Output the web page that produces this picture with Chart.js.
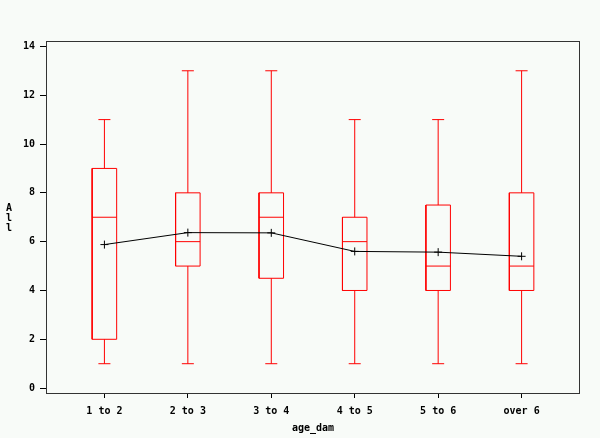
<!DOCTYPE html>
<html>
<head>
<meta charset="utf-8">
<script src="https://cdn.jsdelivr.net/npm/chart.js@4"></script>
<style>
  html, body { margin: 0; padding: 0; background: #f8fbf8; }
  canvas { display: block; }
</style>
</head>
<body>
<canvas id="boxChart" width="600" height="438"></canvas>
<script>
// box plot values
const categories = ['1 to 2', '2 to 3', '3 to 4', '4 to 5', '5 to 6', 'over 6'];
const minVals = [1, 1, 1, 1, 1, 1];
const q1Vals = [2, 5, 4.5, 4, 4, 4];
const medianVals = [7, 6, 7, 6, 5, 5];
const q3Vals = [9, 8, 8, 7, 7.5, 8];
const maxVals = [11, 13, 13, 11, 11, 13];
const meanVals = [5.88, 6.37, 6.36, 5.6, 5.57, 5.4];
const yTicks = [0, 2, 4, 6, 8, 10, 12, 14];

const RED = '#ff0000';
const BOX_HALF = 0.147;
const CAP_HALF = 0.072;
const tickFont = { family: 'DejaVu Sans Mono', size: 10, weight: 'bold' };

// boxes, whiskers, caps and medians as broken line segments
const boxes = [];
const whiskers = [];
const caps = [];
const medians = [];
categories.forEach(function (c, i) {
  const x = i + 1;
  boxes.push(
    { x: x - BOX_HALF, y: q1Vals[i] }, { x: x + BOX_HALF, y: q1Vals[i] },
    { x: x + BOX_HALF, y: q3Vals[i] }, { x: x - BOX_HALF, y: q3Vals[i] },
    { x: x - BOX_HALF, y: q1Vals[i] }, { x: x, y: null }
  );
  whiskers.push({ x: x, y: minVals[i] }, { x: x, y: q1Vals[i] }, { x: x, y: null });
  whiskers.push({ x: x, y: q3Vals[i] }, { x: x, y: maxVals[i] }, { x: x, y: null });
  caps.push({ x: x - CAP_HALF, y: minVals[i] }, { x: x + CAP_HALF, y: minVals[i] }, { x: x, y: null });
  caps.push({ x: x - CAP_HALF, y: maxVals[i] }, { x: x + CAP_HALF, y: maxVals[i] }, { x: x, y: null });
  medians.push({ x: x - BOX_HALF, y: medianVals[i] }, { x: x + BOX_HALF, y: medianVals[i] }, { x: x, y: null });
});

function segDataset(data) {
  return {
    data: data, borderColor: RED, borderWidth: 1,
    pointRadius: 0, spanGaps: false, tension: 0, order: 2
  };
}

const framePlugin = {
  id: 'frame',
  beforeDraw: function (chart) {
    const ctx = chart.ctx;
    ctx.save();
    ctx.fillStyle = '#f8fbf8';
    ctx.fillRect(0, 0, chart.width, chart.height);
    ctx.restore();
  },
  afterDraw: function (chart) {
    const a = chart.chartArea;
    const ctx = chart.ctx;
    ctx.save();
    ctx.strokeStyle = '#333';
    ctx.lineWidth = 1;
    ctx.strokeRect(a.left + 0.5, a.top + 0.5, a.right - a.left - 1, a.bottom - a.top);
    // stacked y-axis title
    ctx.fillStyle = '#000';
    ctx.font = 'bold 10px "DejaVu Sans Mono"';
    ctx.textAlign = 'center';
    ctx.textBaseline = 'middle';
    const title = 'All';
    for (let i = 0; i < title.length; i++) {
      ctx.fillText(title[i], 9, 208 + i * 10);
    }
    ctx.restore();
  }
};

new Chart(document.getElementById('boxChart'), {
  type: 'line',
  data: {
    datasets: [
      {
        data: categories.map(function (c, i) { return { x: i + 1, y: meanVals[i] }; }),
        borderColor: '#000', borderWidth: 1, tension: 0,
        pointStyle: 'cross', pointRadius: 4, pointBorderColor: '#000', pointBorderWidth: 1,
        order: 0
      },
      segDataset(boxes),
      segDataset(whiskers),
      segDataset(caps),
      segDataset(medians)
    ]
  },
  options: {
    responsive: false,
    animation: false,
    layout: { padding: { top: 41, right: 20, left: 0, bottom: 0 } },
    plugins: { legend: { display: false }, tooltip: { enabled: false } },
    scales: {
      x: {
        type: 'linear', min: 0.3, max: 6.7, offset: false,
        afterBuildTicks: function (scale) {
          scale.ticks = categories.map(function (c, i) { return { value: i + 1 }; });
        },
        afterFit: function (scale) { scale.height = 45; },
        ticks: {
          color: '#000', font: tickFont, padding: 7, maxRotation: 0,
          callback: function (v) { return categories[v - 1]; }
        },
        grid: { offset: false, drawOnChartArea: false, drawTicks: true, tickLength: 5, tickColor: '#000' },
        border: { display: false },
        title: { display: true, text: 'age_dam', color: '#000', font: tickFont, padding: { top: 0, bottom: 4 } }
      },
      y: {
        min: -0.2, max: 14.22,
        afterBuildTicks: function (scale) {
          scale.ticks = yTicks.map(function (v) { return { value: v }; });
        },
        afterFit: function (scale) { scale.width = 46; },
        ticks: { color: '#000', font: tickFont, padding: 5 },
        grid: { drawOnChartArea: false, drawTicks: true, tickLength: 6, tickColor: '#000' },
        border: { display: false }
      }
    }
  },
  plugins: [framePlugin]
});
</script>
</body>
</html>
